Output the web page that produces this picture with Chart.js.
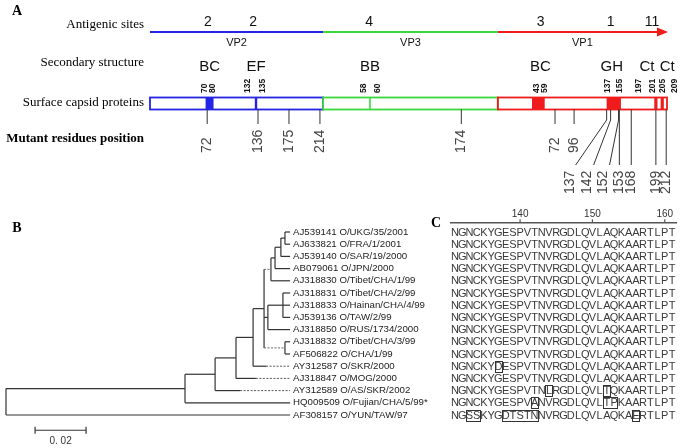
<!DOCTYPE html>
<html>
<head>
<meta charset="utf-8">
<script src="https://cdn.jsdelivr.net/npm/chart.js@4.4.0/dist/chart.umd.min.js"></script>
<style>
  html, body { margin: 0; padding: 0; background: #fff; }
  body { width: 685px; height: 448px; position: relative; overflow: hidden; }
  .panel { position: absolute; }
</style>
</head>
<body>
<div class="panel" style="left:0;top:0;width:685px;height:200px"><canvas id="mapChart"></canvas></div>
<div class="panel" style="left:0;top:200px;width:445px;height:248px"><canvas id="treeChart"></canvas></div>
<div class="panel" style="left:425px;top:200px;width:260px;height:248px"><canvas id="alignChart"></canvas></div>
<script>
// ---- panel A data ----
const proteins = ['VP2', 'VP3', 'VP1'];
const proteinLengths = [218, 220, 213];
const proteinColors = ['#2424e4', '#3bd83b', '#f01c1c'];

const siteLabels = ['2', '2', '4', '3', '1', '11'];
const siteProtein = ['VP2', 'VP2', 'VP3', 'VP1', 'VP1', 'VP1'];
const siteResidue = [73, 130, 58, 54, 142, 194];

const loopNames = ['BC', 'EF', 'BB', 'BC', 'GH', 'Ct', 'Ct'];
const loopProtein = ['VP2', 'VP2', 'VP3', 'VP1', 'VP1', 'VP1', 'VP1'];
const loopStart = [70, 132, 58, 43, 137, 197, 205];
const loopEnd = [80, 135, 60, 59, 155, 201, 209];

const mutProtein = ['VP2', 'VP2', 'VP2', 'VP2', 'VP3', 'VP1', 'VP1', 'VP1', 'VP1', 'VP1', 'VP1', 'VP1', 'VP1', 'VP1'];
const mutResidue = [72, 136, 175, 214, 174, 72, 96, 137, 142, 152, 153, 168, 199, 212];

const rowTitles = ['Antigenic sites', 'Secondary structure', 'Surface capsid proteins', 'Mutant residues position'];

// ---- panel B data ----
const strains = [
  'AJ539141 O/UKG/35/2001', 'AJ633821 O/FRA/1/2001', 'AJ539140 O/SAR/19/2000', 'AB079061 O/JPN/2000',
  'AJ318830 O/Tibet/CHA/1/99', 'AJ318831 O/Tibet/CHA/2/99', 'AJ318833 O/Hainan/CHA/4/99', 'AJ539136 O/TAW/2/99',
  'AJ318850 O/RUS/1734/2000', 'AJ318832 O/Tibet/CHA/3/99', 'AF506822 O/CHA/1/99', 'AY312587 O/SKR/2000',
  'AJ318847 O/MOG/2000', 'AY312589 O/AS/SKR/2002', 'HQ009509 O/Fujian/CHA/5/99*', 'AF308157 O/YUN/TAW/97'
];
const leafDepth = [0.1114, 0.1114, 0.1114, 0.1114, 0.1114, 0.1114, 0.1114, 0.1114,
                   0.1114, 0.1114, 0.1114, 0.1020, 0.0980, 0.0918, 0.1114, 0.1114];
const nodeNames = ['a', 'b', 'c', 'd', 'e', 'f', 'h', 'n5', 'n4', 'n3', 'n2', 'n1', 'root'];
const nodeChildren = [[0, 1], ['a', 2], ['b', 3], ['c', 4], [5, 6, 7], ['e', 8], [9, 10],
                      ['d', 'f', 'h'], ['n5', 11], ['n4', 12], ['n3', 13], ['n2', 14], ['n1', 15]];
const nodeDepth = [0.1094, 0.1078, 0.1055, 0.1039, 0.1086, 0.1027, 0.1094, 0.1012, 0.0969, 0.0902, 0.0820, 0.0702, 0];
const dashedBranches = ['d', 'h'];
const scaleBarLength = 0.02;
const scaleBarLabel = '0. 02';

// ---- panel C data ----
const alignFirstResidue = 131;
const consensus = 'NGNCKYGESPVTNVRGDLQVLAQKAARTLPT';
const alignRows = [
  'NGNCKYGESPVTNVRGDLQVLAQKAARTLPT', 'NGNCKYGESPVTNVRGDLQVLAQKAARTLPT', 'NGNCKYGESPVTNVRGDLQVLAQKAARTLPT',
  'NGNCKYGESPVTNVRGDLQVLAQKAARTLPT', 'NGNCKYGESPVTNVRGDLQVLAQKAARTLPT', 'NGNCKYGESPVTNVRGDLQVLAQKAARTLPT',
  'NGNCKYGESPVTNVRGDLQVLAQKAARTLPT', 'NGNCKYGESPVTNVRGDLQVLAQKAARTLPT', 'NGNCKYGESPVTNVRGDLQVLAQKAARTLPT',
  'NGNCKYGESPVTNVRGDLQVLAQKAARTLPT', 'NGNCKYGESPVTNVRGDLQVLAQKAARTLPT', 'NGNCKYDESPVTNVRGDLQVLAQKAARTLPT',
  'NGNCKYGESPVTNVRGDLQVLAQKAARTLPT', 'NGNCKYGESPVTNLRGDLQVLTQKAARTLPT', 'NGNCKYGESPVANVRGDLQVLTPKAARTLPT',
  'NGSSKYGDTSTNNVRGDLQVLAQKAERTLPT'
];
const rulerTicks = [140, 150, 160];

// ---- layout (pixels) ----
const SANS = '"Liberation Sans", Arial, sans-serif';
const SERIF = '"Liberation Serif", "Times New Roman", serif';
const lane = { siteText: 22, siteLine: 32, vpText: 42.5, loopText: 67, loopNum: 93, boxTop: 97.5, boxBottom: 109.5,
               upperEnd: 124, upperLabel: 153, bend: 120, lowerEnd: 165, lowerLabel: 194 };
const rowTitleY = [25, 63, 103, 139];
const loopTextShift = [0, 0, 0, 2, -2, -9, 5];
const loopNumShift = [[-1, -1], [-7, 5], [-6, 7], [5, 0], [1, -1], [-16, -5], [2, 11]];
const mutLowRow = [0, 0, 0, 0, 0, 0, 0, 1, 1, 1, 1, 1, 1, 1];
const mutLabelShift = [0, 0, 0, 0, 0, 0, 0, -37, -23, -15, 0, 0, 0, 0];

const offsets = proteinLengths.map((_, i) => proteinLengths.slice(0, i).reduce((a, b) => a + b, 0));
const totalLength = proteinLengths.reduce((a, b) => a + b, 0);
const pIndex = p => proteins.indexOf(p);

function put(ctx, str, px, py, font, color, align, baseline) {
  ctx.font = font;
  ctx.fillStyle = color;
  ctx.textAlign = align || 'center';
  ctx.textBaseline = baseline || 'middle';
  ctx.fillText(str, px, py);
}
function putUp(ctx, str, px, py, font, color) {
  ctx.save();
  ctx.translate(px, py);
  ctx.rotate(-Math.PI / 2);
  put(ctx, str, 0, 0, font, color, 'left', 'middle');
  ctx.restore();
}
function seg(ctx, x1, y1, x2, y2, color, width, dash) {
  ctx.save();
  ctx.strokeStyle = color;
  ctx.lineWidth = width;
  ctx.setLineDash(dash || []);
  ctx.beginPath();
  ctx.moveTo(x1, y1);
  ctx.lineTo(x2, y2);
  ctx.stroke();
  ctx.restore();
}

const mapPlugin = {
  id: 'capsidMap',
  afterDraw(chart) {
    const { ctx, scales: { x, y } } = chart;
    const X = (p, r) => x.getPixelForValue(offsets[pIndex(p)] + r);
    const Y = v => y.getPixelForValue(v);

    put(ctx, 'A', 17, 11, 'bold 14px ' + SERIF, '#000');
    rowTitles.forEach((t, i) => {
      put(ctx, t, x.left - 6, Y(rowTitleY[i]), (i === 3 ? 'bold ' : '') + '13px ' + SERIF, '#000', 'right');
    });

    // antigenic line with arrow
    proteins.forEach((p, i) => {
      const x1 = X(p, 0), x2 = X(p, proteinLengths[i]);
      seg(ctx, x1, Y(lane.siteLine), i === 2 ? x2 - 8 : x2, Y(lane.siteLine), proteinColors[i], 2);
      put(ctx, p, (x1 + x2) / 2, Y(lane.vpText), '11px ' + SANS, '#111');
    });
    const tip = X('VP1', proteinLengths[2]);
    ctx.fillStyle = proteinColors[2];
    ctx.beginPath();
    ctx.moveTo(tip + 1, Y(lane.siteLine));
    ctx.lineTo(tip - 10, Y(lane.siteLine) - 4.5);
    ctx.lineTo(tip - 10, Y(lane.siteLine) + 4.5);
    ctx.closePath();
    ctx.fill();
    siteLabels.forEach((s, i) => put(ctx, s, X(siteProtein[i], siteResidue[i]), Y(lane.siteText), '14px ' + SANS, '#111'));

    // capsid boxes
    proteins.forEach((p, i) => {
      ctx.strokeStyle = proteinColors[i];
      ctx.lineWidth = 1.8;
      ctx.strokeRect(X(p, 0), Y(lane.boxTop), X(p, proteinLengths[i]) - X(p, 0), Y(lane.boxBottom) - Y(lane.boxTop));
    });
    loopNames.forEach((n, i) => {
      const p = loopProtein[i];
      const x1 = X(p, loopStart[i]), x2 = X(p, loopEnd[i]);
      ctx.fillStyle = proteinColors[pIndex(p)];
      ctx.fillRect(x1, Y(lane.boxTop), Math.max(x2 - x1, 1.5), Y(lane.boxBottom) - Y(lane.boxTop));
      put(ctx, n, (x1 + x2) / 2 + loopTextShift[i], Y(lane.loopText), '15px ' + SANS, '#111');
      putUp(ctx, String(loopStart[i]), x1 + loopNumShift[i][0], Y(lane.loopNum), 'bold 8.5px ' + SANS, '#111');
      putUp(ctx, String(loopEnd[i]), x2 + loopNumShift[i][1], Y(lane.loopNum), 'bold 8.5px ' + SANS, '#111');
    });

    // mutant residues
    mutResidue.forEach((r, i) => {
      const mx = X(mutProtein[i], r);
      const lx = mx + mutLabelShift[i];
      if (mutLowRow[i]) {
        if (mutLabelShift[i]) {
          seg(ctx, mx, Y(lane.boxBottom), mx, Y(lane.bend), '#333', 1);
          seg(ctx, mx, Y(lane.bend), lx + 6, Y(lane.lowerEnd), '#333', 1);
        } else {
          seg(ctx, mx, Y(lane.boxBottom), mx, Y(lane.lowerEnd), '#333', 1);
        }
        putUp(ctx, String(r), lx, Y(lane.lowerLabel), '14px ' + SANS, '#444');
      } else {
        seg(ctx, mx, Y(lane.boxBottom), mx, Y(lane.upperEnd), '#333', 1);
        putUp(ctx, String(r), mx, Y(lane.upperLabel), '14px ' + SANS, '#444');
      }
    });
  }
};

new Chart(document.getElementById('mapChart'), {
  type: 'scatter',
  data: { datasets: [] },
  options: {
    responsive: true, maintainAspectRatio: false, animation: false,
    layout: { padding: { left: 150, right: 18, top: 0, bottom: 0 } },
    plugins: { legend: { display: false }, tooltip: { enabled: false } },
    scales: {
      x: { type: 'linear', display: false, min: 0, max: totalLength },
      y: { type: 'linear', display: false, min: 0, max: 200, reverse: true }
    }
  },
  plugins: [mapPlugin]
});

// ---- panel B: tree ----
const tipDepth = Math.max(...leafDepth);
const treePlugin = {
  id: 'tree',
  afterDraw(chart) {
    const { ctx, scales: { x, y } } = chart;
    const nodeY = {};
    const depthOf = c => typeof c === 'number' ? leafDepth[c] : nodeDepth[nodeNames.indexOf(c)];
    const yOf = c => typeof c === 'number' ? c : nodeY[c];
    nodeNames.forEach((n, i) => {
      const ch = nodeChildren[i];
      nodeY[n] = (yOf(ch[0]) + yOf(ch[ch.length - 1])) / 2;
    });
    const ink = '#333';
    nodeNames.forEach((n, i) => {
      const ch = nodeChildren[i];
      const nx = x.getPixelForValue(nodeDepth[i]);
      seg(ctx, nx, y.getPixelForValue(yOf(ch[0])), nx, y.getPixelForValue(yOf(ch[ch.length - 1])), ink, 1.2);
      ch.forEach(c => {
        const cy = y.getPixelForValue(yOf(c));
        const cx = x.getPixelForValue(depthOf(c));
        if (dashedBranches.includes(c)) seg(ctx, nx, cy, cx, cy, '#666', 1, [2, 1.5]);
        else seg(ctx, nx, cy, cx, cy, ink, 1.2);
      });
    });
    strains.forEach((s, i) => {
      const ly = y.getPixelForValue(i);
      const end = x.getPixelForValue(leafDepth[i]);
      const tip = x.getPixelForValue(tipDepth);
      if (tip - end > 1) seg(ctx, end, ly, tip, ly, '#555', 1, [2, 1.5]);
      put(ctx, s, tip + 3, ly, '9.7px ' + SANS, '#222', 'left');
    });
    put(ctx, 'B', 17, 28, 'bold 14px ' + SERIF, '#000');
    // scale bar
    const bx1 = x.getPixelForValue(0.0114), bx2 = x.getPixelForValue(0.0114 + scaleBarLength);
    const by = y.getPixelForValue(16.25);
    seg(ctx, bx1, by, bx2, by, ink, 1.2);
    seg(ctx, bx1, by - 3.5, bx1, by + 3.5, ink, 1.2);
    seg(ctx, bx2, by - 3.5, bx2, by + 3.5, ink, 1.2);
    put(ctx, scaleBarLabel, (bx1 + bx2) / 2, y.getPixelForValue(17.15), '10px ' + SANS, '#333');
  }
};

new Chart(document.getElementById('treeChart'), {
  type: 'scatter',
  data: { datasets: [] },
  options: {
    responsive: true, maintainAspectRatio: false, animation: false,
    layout: { padding: { left: 6, right: 0, top: 32, bottom: 33 } },
    plugins: { legend: { display: false }, tooltip: { enabled: false } },
    scales: {
      x: { type: 'linear', display: false, min: 0, max: 0.17216 },
      y: { type: 'linear', display: false, min: 0, max: 15, reverse: true }
    }
  },
  plugins: [treePlugin]
});

// ---- panel C: alignment ----
const alignPlugin = {
  id: 'alignment',
  afterDraw(chart) {
    const { ctx, scales: { x, y } } = chart;
    put(ctx, 'C', 11, 23, 'bold 14px ' + SERIF, '#000');
    const ry = y.getPixelForValue(-0.75);
    seg(ctx, x.getPixelForValue(alignFirstResidue - 0.7), ry, x.getPixelForValue(alignFirstResidue + consensus.length - 0.3), ry, '#555', 1.5);
    rulerTicks.forEach(t => {
      const tx = x.getPixelForValue(t);
      seg(ctx, tx, ry, tx, ry - 3.5, '#555', 1.2);
      put(ctx, String(t), tx, y.getPixelForValue(-1.45), '10px ' + SANS, '#333');
    });
    alignRows.forEach((row, r) => {
      const cy = y.getPixelForValue(r);
      [...row].forEach((ch, k) => put(ctx, ch, x.getPixelForValue(alignFirstResidue + k), cy + 0.5, '11px ' + SANS, '#3a3a3a'));
      // box runs of residues that differ from the consensus
      let k = 0;
      while (k < row.length) {
        if (row[k] !== consensus[k]) {
          let e = k;
          while (e + 1 < row.length && row[e + 1] !== consensus[e + 1]) e++;
          const x1 = x.getPixelForValue(alignFirstResidue + k - 0.5);
          const x2 = x.getPixelForValue(alignFirstResidue + e + 0.5);
          ctx.strokeStyle = '#333';
          ctx.lineWidth = 1;
          ctx.strokeRect(Math.round(x1) + 0.5, Math.round(y.getPixelForValue(r - 0.45)) + 0.5, Math.round(x2 - x1), Math.round(y.getPixelForValue(r + 0.45) - y.getPixelForValue(r - 0.45)));
          k = e + 1;
        } else k++;
      }
    });
  }
};

new Chart(document.getElementById('alignChart'), {
  type: 'scatter',
  data: { datasets: [] },
  options: {
    responsive: true, maintainAspectRatio: false, animation: false,
    layout: { padding: { left: 30, right: 13, top: 32, bottom: 33 } },
    plugins: { legend: { display: false }, tooltip: { enabled: false } },
    scales: {
      x: { type: 'linear', display: false, min: alignFirstResidue, max: alignFirstResidue + consensus.length - 1 },
      y: { type: 'linear', display: false, min: 0, max: 15, reverse: true }
    }
  },
  plugins: [alignPlugin]
});
</script>
</body>
</html>
